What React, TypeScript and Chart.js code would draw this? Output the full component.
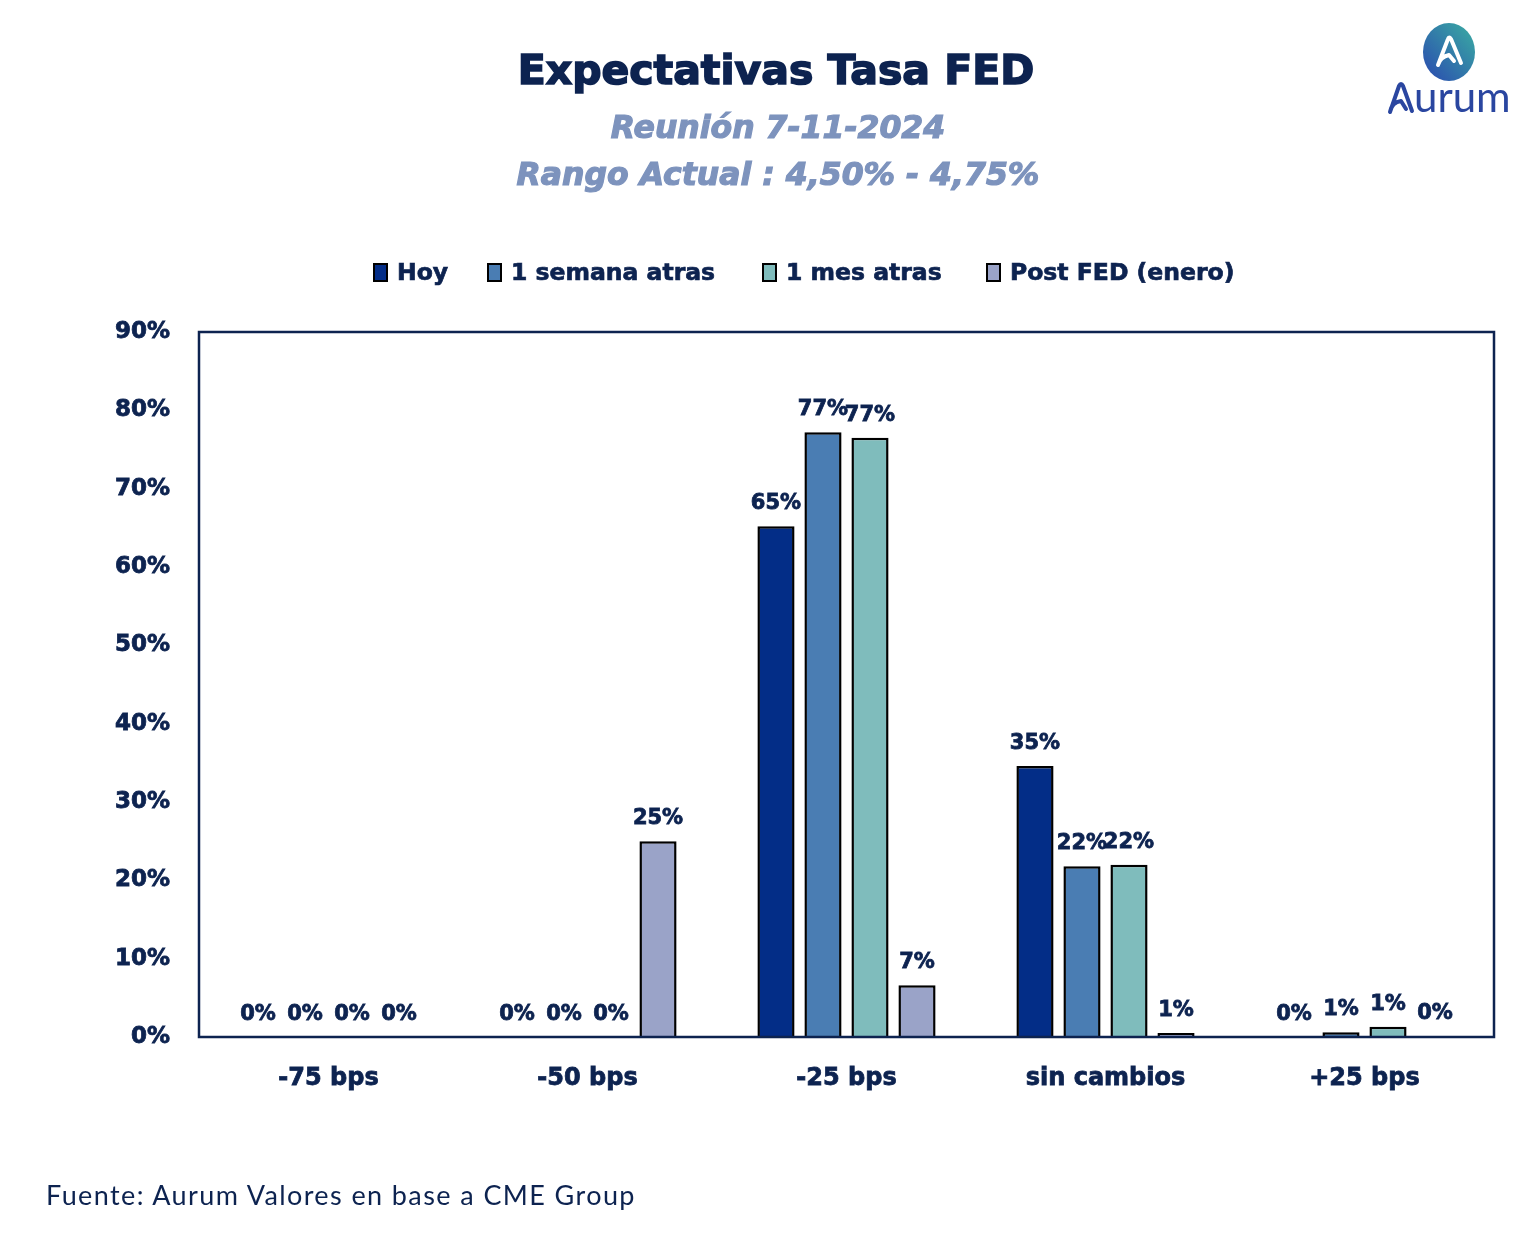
import React, { useEffect, useRef } from "react";
import { Chart, registerables } from "chart.js";

Chart.register(...registerables);

const categories = ["-75 bps", "-50 bps", "-25 bps", "sin cambios", "+25 bps"];
const seriesNames = ["Hoy", "1 semana atras", "1 mes atras", "Post FED (enero)"];
const hoy = [0, 0, 65.2, 34.6, 0];
const semana = [0, 0, 77.2, 21.8, 0.6];
const mes = [0, 0, 76.5, 22.0, 1.3];
const postFed = [0, 25.0, 6.6, 0.5, 0.1];
const seriesColors = ["#032d87", "#4a7db3", "#7fbcbc", "#9aa3c8"];
const yMax = 90;
const yStep = 10;

const NAVY = "#0d2350";
const FONT = "'DejaVu Sans', sans-serif";

const borderPlugin = {
  id: "plotBorder",
  afterDraw(chart: any) {
    const { ctx, chartArea } = chart;
    ctx.save();
    ctx.strokeStyle = NAVY;
    ctx.lineWidth = 2.5;
    ctx.strokeRect(chartArea.left, chartArea.top, chartArea.right - chartArea.left, chartArea.bottom - chartArea.top);
    ctx.restore();
  },
};

const labelPlugin = {
  id: "barLabels",
  afterDatasetsDraw(chart: any) {
    const { ctx } = chart;
    ctx.save();
    ctx.font = `bold 21px ${FONT}`;
    ctx.fillStyle = NAVY;
    ctx.strokeStyle = NAVY;
    ctx.lineWidth = 0.8;
    ctx.textAlign = "center";
    ctx.textBaseline = "alphabetic";
    chart.data.datasets.forEach((ds: any, i: number) => {
      const meta = chart.getDatasetMeta(i);
      meta.data.forEach((bar: any, j: number) => {
        const v = ds.data[j];
        const t = Math.round(v) + "%";
        ctx.fillText(t, bar.x, bar.y - 17);
        ctx.strokeText(t, bar.x, bar.y - 17);
      });
    });
    ctx.restore();
  },
};

export default function App() {
  const ref = useRef<HTMLCanvasElement | null>(null);

  useEffect(() => {
    if (!ref.current) return;
    const data = [hoy, semana, mes, postFed];
    const chart = new Chart(ref.current, {
      type: "bar",
      data: {
        labels: categories,
        datasets: seriesNames.map((name, i) => ({
          label: name,
          data: data[i],
          backgroundColor: seriesColors[i],
          borderColor: "#000000",
          borderWidth: 2.5,
          borderSkipped: "bottom" as any,
          categoryPercentage: 0.726,
          barPercentage: 0.79,
        })),
      },
      options: {
        responsive: false,
        animation: false,
        layout: { padding: { top: 332, right: 46, left: 0, bottom: 0 } },
        plugins: {
          legend: { display: false },
          title: { display: false },
          tooltip: { enabled: false },
        },
        scales: {
          x: {
            grid: { display: false, drawTicks: false },
            border: { display: false },
            ticks: {
              color: NAVY,
              font: { family: FONT, weight: "bold", size: 24 },
              textStrokeColor: NAVY,
              textStrokeWidth: 0.8,
              padding: 27,
            },
            afterFit(scale: any) {
              scale.height = 223;
            },
          },
          y: {
            min: 0,
            max: yMax,
            grid: { display: false, drawTicks: false },
            border: { display: false },
            ticks: {
              stepSize: yStep,
              color: NAVY,
              font: { family: FONT, weight: "bold", size: 23 },
              textStrokeColor: NAVY,
              textStrokeWidth: 0.8,
              padding: 29,
              callback: (v: any) => v + "%",
            },
            afterFit(scale: any) {
              scale.width = 199;
            },
          },
        },
      },
      plugins: [labelPlugin, borderPlugin],
    });
    return () => chart.destroy();
  }, []);

  const legendLeft = [373, 487, 762, 986];

  return (
    <div style={{ position: "absolute", left: 0, top: 0, width: 1540, height: 1260, overflow: "hidden", background: "#ffffff" }}>
      <canvas ref={ref} width={1540} height={1260} style={{ position: "absolute", left: 0, top: 0 }} />
      <div
        style={{
          position: "absolute", left: 0, width: 1552, top: 46, textAlign: "center",
          font: `bold 41px ${FONT}`, color: NAVY, WebkitTextStroke: `1.6px ${NAVY}`,
        }}
      >
        Expectativas Tasa FED
      </div>
      <div
        style={{
          position: "absolute", left: 0, width: 1556, top: 104, textAlign: "center",
          font: `italic bold 31.5px ${FONT}`, color: "#7d93bd", lineHeight: "47px",
          WebkitTextStroke: "1.2px #7d93bd",
        }}
      >
        <div>Reunión 7-11-2024</div>
        <div>Rango Actual : 4,50% - 4,75%</div>
      </div>
      {seriesNames.map((name, i) => (
        <div
          key={name}
          style={{
            position: "absolute", left: legendLeft[i], top: 258, height: 28, display: "flex", alignItems: "center",
            font: `bold 23.5px ${FONT}`, color: NAVY, whiteSpace: "nowrap", WebkitTextStroke: `0.7px ${NAVY}`,
          }}
        >
          <span
            style={{
              display: "inline-block", width: 11, height: 15, background: seriesColors[i],
              border: "2px solid #000", marginRight: 9,
            }}
          />
          {name}
        </div>
      ))}
      <div
        style={{
          position: "absolute", left: 46, top: 1178, font: "27px Lato, sans-serif", color: NAVY, letterSpacing: "1.4px",
        }}
      >
        Fuente: Aurum Valores en base a CME Group
      </div>
      <svg width={140} height={110} style={{ position: "absolute", left: 1380, top: 15 }}>
        <defs>
          <linearGradient id="lg" x1="0" y1="1" x2="1" y2="0">
            <stop offset="0" stopColor="#2a48b0" />
            <stop offset="1" stopColor="#3aaea2" />
          </linearGradient>
        </defs>
        <ellipse cx={69} cy={37} rx={26} ry={29} fill="url(#lg)" />
        <path d="M58 50 L68 24 Q69 21 71 24 L81 48 M58 50 Q60 42 69 40 L74 46"
          fill="none" stroke="#ffffff" strokeWidth={4} strokeLinecap="round" strokeLinejoin="round" />
        <path d="M10 97 L19 71 Q21 67 23 71 L32 96 M10 97 Q12 87 21 86 L26 94"
          fill="none" stroke="#2a46a0" strokeWidth={4} strokeLinecap="round" strokeLinejoin="round" />
        <text x={34} y={97} fontFamily="Lato, sans-serif" fontSize={42} fill="#2a46a0">urum</text>
      </svg>
    </div>
  );
}
